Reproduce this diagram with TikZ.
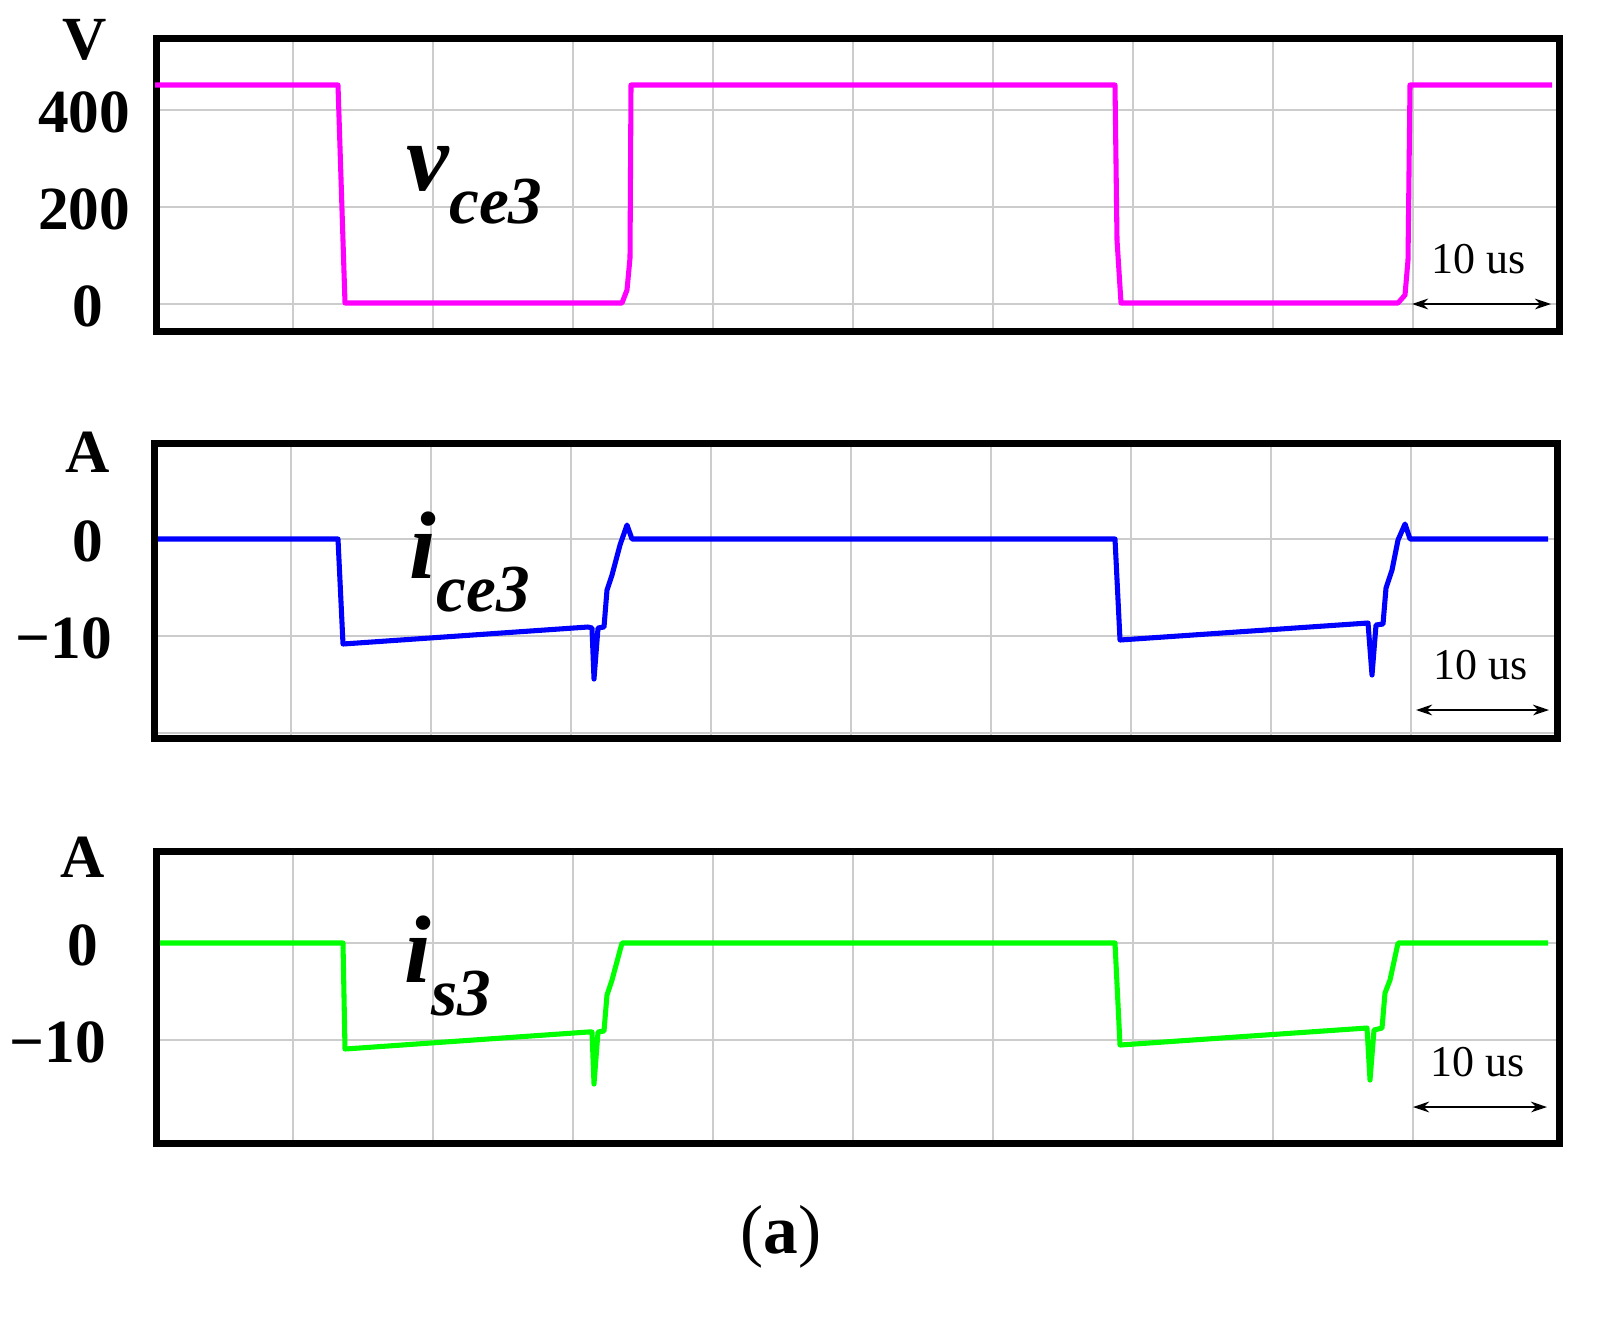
\documentclass[tikz,border=0pt]{standalone}
\usepackage{fontspec}
\usetikzlibrary{arrows.meta}
\setmainfont{Liberation Serif}
\definecolor{mag}{RGB}{255,0,255}
\definecolor{grn}{RGB}{0,255,0}
\definecolor{blu}{RGB}{0,0,255}
\begin{document}
\begin{tikzpicture}[x=0.75pt,y=-0.75pt,
  frame/.style={line width=5pt},
  gridl/.style={gray!40,line width=0.8pt},
  wave/.style={line width=3.8pt,line join=round},
  tick/.style={font=\fontsize{46}{46}\selectfont\bfseries},
  sig/.style={font=\fontsize{72}{72}\selectfont\bfseries\itshape},
  scl/.style={font=\fontsize{33}{33}\selectfont},
  sarr/.style={<->,>={Stealth[length=12pt,width=8pt]},line width=1.8pt}]
\useasboundingbox (0,0) rectangle (1609,1318);
\foreach \t/\b/\l/\r/\ya/\yb in {35/328/153/1556/110/207, 440/735/151/1554/539/636, 848/1140/153/1556/943/1040}{
  \foreach \k in {1,...,9} \draw[gridl] ({\l+\k*140},\t) -- ({\l+\k*140},\b);
  \draw[gridl] (\l,\ya) -- (\r,\ya);
  \draw[gridl] (\l,\yb) -- (\r,\yb);
}
\draw[gridl] (153,304) -- (1556,304);
\draw[gridl] (151,733) -- (1554,733);
\node[draw,frame,minimum width=1403*0.75pt,minimum height=293*0.75pt,anchor=north west,inner sep=0] (p1) at (153,35) {};
\node[draw,frame,minimum width=1403*0.75pt,minimum height=295*0.75pt,anchor=north west,inner sep=0] (p2) at (151,440) {};
\node[draw,frame,minimum width=1403*0.75pt,minimum height=292*0.75pt,anchor=north west,inner sep=0] (p3) at (153,848) {};
\node[tick] (lv) at (85,40) {V};
\node[tick] (l400) at (84,112) {400};
\node[tick] (l200) at (84,209) {200};
\node[tick] (l0a) at (88,306) {0};
\node[tick] (la1) at (88,452) {A};
\node[tick] (l0b) at (88,541) {0};
\node[tick] (lm1) at (64,638) {−10};
\node[tick] (la2) at (83,857) {A};
\node[tick] (l0c) at (83,945) {0};
\node[tick] (lm2) at (58,1042) {−10};
\draw[wave,color=mag] (155,85) -- (338,85) -- (345,303) -- (622,303) -- (627,290) -- (630,258) -- (631,85) -- (1115,85) -- (1117,240) -- (1121,303) -- (1398,303) -- (1405,295) -- (1408,260) -- (1410,85) -- (1552,85);
\draw[wave,color=blu] (158,539) -- (338,539) -- (343,644) -- (588,627) -- (592,628) -- (594,679) -- (598,628) -- (604,627) -- (607,590) -- (612,575) -- (620,545) -- (627,525) -- (632,539) -- (1115,539) -- (1120,640) -- (1368,623) -- (1372,675) -- (1376,625) -- (1383,624) -- (1386,588) -- (1392,570) -- (1398,540) -- (1405,524) -- (1410,539) -- (1548,539);
\draw[wave,color=grn] (160,943) -- (343,943) -- (345,1049) -- (588,1032) -- (592,1032) -- (594,1084) -- (598,1032) -- (604,1031) -- (607,995) -- (612,980) -- (622,943) -- (1115,943) -- (1120,1045) -- (1367,1028) -- (1370,1080) -- (1374,1030) -- (1382,1028) -- (1385,993) -- (1390,980) -- (1398,943) -- (1548,943);
\node[sig,anchor=base west] (n1) at (402,190) {v\textsubscript{ce3}};
\node[sig,anchor=base west] (n2) at (405,578) {i\textsubscript{ce3}};
\node[sig,anchor=base west] (n3) at (400,982) {i\textsubscript{s3}};
\coordinate (a1l) at (1412,304); \coordinate (a1r) at (1551,304);
\coordinate (a2l) at (1416,710); \coordinate (a2r) at (1549,710);
\coordinate (a3l) at (1413,1107); \coordinate (a3r) at (1547,1107);
\draw[sarr] (a1l) -- (a1r);
\draw[sarr] (a2l) -- (a2r);
\draw[sarr] (a3l) -- (a3r);
\node[scl] (s1) at (1479,259) {10 us};
\node[scl] (s2) at (1481,665) {10 us};
\node[scl] (s3) at (1478,1062) {10 us};
\node[font=\fontsize{52}{52}\selectfont] (cap) at (781,1237) {(\textbf{a})};
\end{tikzpicture}
\end{document}
